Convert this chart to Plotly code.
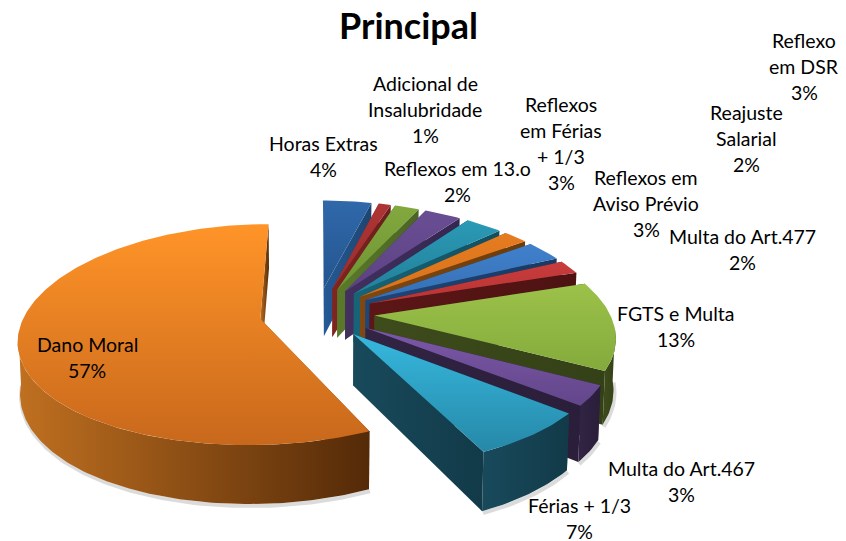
import numpy as np
import plotly.graph_objects as go

categories = ["Horas Extras", "Adicional de Insalubridade", "Reflexos em 13.o",
              "Reflexos em Férias + 1/3", "Reflexos em Aviso Prévio", "Reajuste Salarial",
              "Reflexo em DSR", "Multa do Art.477", "FGTS e Multa",
              "Multa do Art.467", "Férias + 1/3", "Dano Moral"]
values = [4, 1, 2, 3, 3, 2, 3, 2, 13, 3, 7, 57]
label_lines = [["Horas Extras"], ["Adicional de", "Insalubridade"], ["Reflexos em 13.o"],
               ["Reflexos", "em Férias", "+ 1/3"], ["Reflexos em", "Aviso Prévio"], ["Reajuste", "Salarial"],
               ["Reflexo", "em DSR"], ["Multa do Art.477"], ["FGTS e Multa"],
               ["Multa do Art.467"], ["Férias + 1/3"], ["Dano Moral"]]
label_centres = [(323, 156), (425, 109), (457, 181), (561, 143), (646, 203), (746, 138),
                 (804, 66), (742, 249), (676, 326), (681, 481), (579, 518), (87, 357)]
# top light, top dark, side light, side dark
palette = [("#3068AA", "#24568F", "#255A96", "#1D4470"),
           ("#AE3434", "#9A2D2D", "#80241F", "#6A1E1E"),
           ("#82A83E", "#6F9434", "#5A7A2A", "#4A6522"),
           ("#6A4E94", "#5C4284", "#42305F", "#352650"),
           ("#2A9AB6", "#237F99", "#176478", "#114F60"),
           ("#E67C20", "#D8721C", "#804810", "#6C3C0C"),
           ("#4080CC", "#3670B4", "#1E4678", "#183A64"),
           ("#C83C3C", "#B83434", "#5C1616", "#4E1212"),
           ("#9CC24A", "#84AA3C", "#3E4C1C", "#344016"),
           ("#7C58A8", "#62468A", "#322444", "#2A1E3A"),
           ("#36B8DE", "#2688A8", "#184A5C", "#123A48"),
           ("#FF9428", "#C8681C", "#C07020", "#542A08")]

# projection of the tilted pie
XV, YH, A, B, K, EXPL, DEPTH, PX = 317.0, -430.0, 0.001346, 0.000193, 235.0, 0.245, 50.0, 0.17
Y0 = 1 / A


def project(X, Y, low=False):
    d = 1 / (A + B * Y)
    x = XV + K * X / (1 + PX * Y)
    y = YH + d
    if low:
        x = XV + (x - XV) * 0.992
        y = y + DEPTH * d / Y0
    return x, y


def poly(fig, xs, ys, c1, c2, kind="vertical"):
    fig.add_trace(go.Scatter(x=list(xs), y=list(ys), mode="lines", fill="toself",
                             line=dict(width=0), hoverinfo="skip", showlegend=False,
                             fillgradient=dict(type=kind, colorscale=[[0, c1], [1, c2]])))


fig = go.Figure()
cum = np.cumsum([0] + values) / sum(values) * 2 * np.pi
order = sorted(range(len(values)), key=lambda i: -np.cos((cum[i] + cum[i + 1]) / 2))

# faint soft shadow under the front walls
for i in order:
    t0, t1 = cum[i], cum[i + 1]
    tm = (t0 + t1) / 2
    cx, cy = EXPL * np.sin(tm), EXPL * np.cos(tm)
    th = np.linspace(t0, t1, max(6, int((t1 - t0) * 60)))
    vis = np.cos(th) < -0.12
    if vis.sum() > 1:
        bx, by = project(cx + np.sin(th[vis]), cy + np.cos(th[vis]), True)
        fig.add_trace(go.Scatter(x=bx + 1, y=by + 2, mode="lines", hoverinfo="skip", showlegend=False,
                                 line=dict(width=4, color="rgba(90,90,90,0.22)")))

for i in order:
    t0, t1 = cum[i], cum[i + 1]
    tm = (t0 + t1) / 2
    cx, cy = EXPL * np.sin(tm), EXPL * np.cos(tm)
    th = np.linspace(t0, t1, max(6, int((t1 - t0) * 60)))
    RX, RY = cx + np.sin(th), cy + np.cos(th)
    top_l, top_d, side_l, side_d = palette[i]

    # radial cut faces
    for t in (t0, t1):
        rx, ry = cx + np.sin(t), cy + np.cos(t)
        a = project(cx, cy)
        r = project(rx, ry)
        rl = project(rx, ry, True)
        al = project(cx, cy, True)
        poly(fig, [a[0], r[0], rl[0], al[0], a[0]], [a[1], r[1], rl[1], al[1], a[1]], side_l, side_d, "horizontal")

    # outer wall, front part only
    vis = np.cos(th) < -0.12
    if vis.sum() > 1:
        tx, ty = project(RX[vis], RY[vis])
        bx, by = project(RX[vis], RY[vis], True)
        poly(fig, np.r_[tx, bx[::-1], tx[0]], np.r_[ty, by[::-1], ty[0]], side_l, side_d, "horizontal")

    # top face (gradient runs bottom to top on the reversed axis)
    tx, ty = project(RX, RY)
    ax, ay = project(cx, cy)
    poly(fig, np.r_[ax, tx, ax], np.r_[ay, ty, ay], top_d, top_l, "vertical")

fig.add_annotation(x=408, y=25, text="<b>Principal</b>", showarrow=False,
                   font=dict(family="Lato", size=36, color="#000000"), xref="x", yref="y")

PITCH = 26
for cat, lines, val, (lx, ly) in zip(categories, label_lines, values, label_centres):
    rows = lines + [f"{val}%"]
    start = ly - PITCH * (len(rows) - 1) / 2
    for n, row in enumerate(rows):
        fig.add_annotation(x=lx, y=start + n * PITCH, text=row, showarrow=False,
                           font=dict(family="Lato", size=19.5, color="#000000"), xref="x", yref="y")

fig.update_layout(width=846, height=541, autosize=False, margin=dict(l=0, r=0, t=0, b=0),
                  paper_bgcolor="white", plot_bgcolor="white", showlegend=False,
                  xaxis=dict(range=[0, 846], visible=False, fixedrange=True),
                  yaxis=dict(range=[541, 0], visible=False, fixedrange=True))
fig.write_html("out.html", config=dict(displayModeBar=False),
               post_script="document.body.style.margin='0';document.body.style.overflow='hidden';")
